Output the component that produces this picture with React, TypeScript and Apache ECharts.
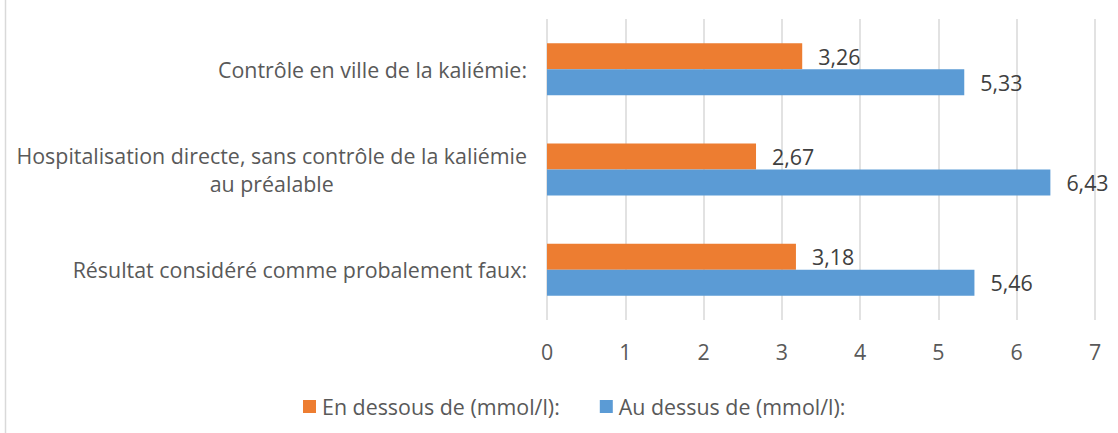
import React, { useEffect, useRef } from "react";
import * as echarts from "echarts";

const categories = [
  "Contrôle en ville de la kaliémie:",
  "Hospitalisation directe, sans contrôle de la kaliémie au préalable",
  "Résultat considéré comme probalement faux:",
];
const belowName = "En dessous de (mmol/l):";
const aboveName = "Au dessus de (mmol/l):";
const belowValues = [3.26, 2.67, 3.18];
const aboveValues = [5.33, 6.43, 5.46];
const xMin = 0;
const xMax = 7;
const xInterval = 1;

const FONT = "'Open Sans', sans-serif";
const FS = 21.4;

function wrap(text: string, max: number): string[] {
  const words = text.split(" ");
  const lines: string[] = [];
  let cur = "";
  for (const w of words) {
    const next = cur ? cur + " " + w : w;
    if (next.length > max && cur) {
      lines.push(cur);
      cur = w;
    } else cur = next;
  }
  if (cur) lines.push(cur);
  return lines;
}

const fmt = (v: number) => v.toFixed(2).replace(".", ",");

export default function App() {
  const ref = useRef<HTMLDivElement>(null);
  useEffect(() => {
    if (!ref.current) return;
    const chart = echarts.init(ref.current, undefined, { renderer: "svg" });
    const labelStyle = {
      show: true,
      position: "right" as const,
      distance: 16,
      color: "#404040",
      fontFamily: FONT,
      fontSize: FS,
      formatter: (p: any) => fmt(p.value),
    };
    chart.setOption({
      animation: false,
      backgroundColor: "#ffffff",
      textStyle: { fontFamily: FONT },
      grid: { left: 547, right: 23, top: 19, bottom: 113, containLabel: false },
      legend: {
        data: [belowName, aboveName],
        left: 298,
        top: 391,
        icon: "rect",
        itemWidth: 13,
        itemHeight: 13,
        itemGap: 40,
        textStyle: { color: "#595959", fontFamily: FONT, fontSize: FS, padding: [0, 0, 0, 1] },
      },
      xAxis: {
        type: "value",
        min: xMin,
        max: xMax,
        interval: xInterval,
        axisLine: { show: false },
        axisTick: { show: false },
        splitLine: { show: true, lineStyle: { color: "#d9d9d9", width: 1.5 } },
        axisLabel: { color: "#595959", fontFamily: FONT, fontSize: FS, margin: 21 },
      },
      yAxis: {
        type: "category",
        inverse: true,
        data: categories,
        axisLine: { show: false },
        axisTick: { show: false },
        splitLine: { show: false },
        axisLabel: {
          margin: 20,
          color: "#595959",
          fontFamily: FONT,
          fontSize: FS,
          formatter: (v: string) =>
            wrap(v, 53)
              .map((l) => "{a|" + l + "}")
              .join("\n"),
          rich: {
            a: {
              align: "center",
              color: "#595959",
              fontFamily: FONT,
              fontSize: FS,
              lineHeight: 28,
            },
          },
        },
      },
      graphic: [
        {
          type: "line",
          shape: { x1: 5.5, y1: 0, x2: 5.5, y2: 433 },
          style: { stroke: "#d9d9d9", lineWidth: 1.5 },
        },
      ],
      series: [
        {
          name: belowName,
          type: "bar",
          data: belowValues,
          barWidth: 26,
          barGap: "0%",
          itemStyle: { color: "#ED7D31" },
          label: labelStyle,
        },
        {
          name: aboveName,
          type: "bar",
          data: aboveValues,
          barWidth: 26,
          barGap: "0%",
          itemStyle: { color: "#5B9BD5" },
          label: labelStyle,
        },
      ],
    });
    return () => chart.dispose();
  }, []);
  return (
    <div
      ref={ref}
      style={{ position: "absolute", left: 0, top: 0, width: 1118, height: 433 }}
    />
  );
}
